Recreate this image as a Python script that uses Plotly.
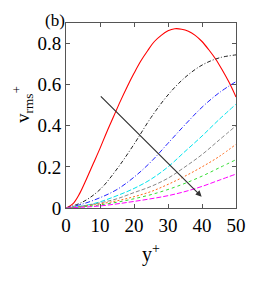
import plotly.graph_objects as go

x = [0, 2, 4, 6, 8, 10, 12, 14, 16, 18, 20, 22, 24, 26, 28, 30, 32, 34, 36, 38, 40, 42, 44, 46, 48, 50]
red = [0, 0.02, 0.07, 0.14, 0.215, 0.29, 0.37, 0.445, 0.52, 0.59, 0.655, 0.715, 0.765, 0.81, 0.84, 0.862, 0.872, 0.87, 0.86, 0.84, 0.81, 0.77, 0.725, 0.67, 0.61, 0.54]

xs = [0, 5, 10, 15, 20, 25, 30, 35, 40, 45, 50]
black = [0, 0.03, 0.09, 0.19, 0.31, 0.44, 0.55, 0.635, 0.695, 0.73, 0.745]
blue = [0, 0.02, 0.05, 0.09, 0.15, 0.225, 0.315, 0.405, 0.49, 0.56, 0.615]
cyan = [0, 0.01, 0.03, 0.06, 0.095, 0.14, 0.20, 0.275, 0.35, 0.43, 0.505]
gray = [0, 0.01, 0.025, 0.045, 0.075, 0.105, 0.145, 0.20, 0.26, 0.33, 0.40]
orange = [0, 0.008, 0.02, 0.035, 0.055, 0.08, 0.115, 0.155, 0.20, 0.25, 0.31]
green = [0, 0.006, 0.015, 0.028, 0.045, 0.065, 0.09, 0.12, 0.155, 0.195, 0.235]
magenta = [0, 0.004, 0.01, 0.02, 0.032, 0.045, 0.06, 0.08, 0.105, 0.135, 0.165]

arrow_start = (9.8, 0.55)
arrow_end = (39.9, 0.055)

xticks = [0, 10, 20, 30, 40, 50]
yticks = [0, 0.2, 0.4, 0.6, 0.8]

FONT = "Liberation Serif"

fig = go.Figure()
fig.add_trace(go.Scatter(x=x, y=red, mode="lines", line=dict(color="#ff0000", width=1.1, shape="spline")))
series = [
    (black, "#222222", "4px,2px,1px,2px"),
    (blue, "#2222ff", "5px,2px,1px,2px"),
    (cyan, "#00e5ee", "5px,2px"),
    (gray, "#888888", "4px,2px"),
    (orange, "#ff6a1a", "2px,2px"),
    (green, "#33dd33", "3px,3px"),
    (magenta, "#ff00ff", "5px,2px"),
]
for ys, c, d in series:
    fig.add_trace(go.Scatter(x=xs, y=ys, mode="lines",
                             line=dict(color=c, width=1, dash=d, shape="spline")))

fig.add_annotation(x=arrow_end[0], y=arrow_end[1], ax=arrow_start[0], ay=arrow_start[1],
                   xref="x", yref="y", axref="x", ayref="y", showarrow=True,
                   arrowhead=2, arrowsize=1, arrowwidth=1.2, arrowcolor="#333333", text="")
fig.add_annotation(text="(b)", xref="paper", yref="paper", x=0.0, y=1.0,
                   xanchor="right", yanchor="bottom", showarrow=False, yshift=-9, xshift=1,
                   font=dict(family=FONT, size=17, color="black"))
# y-axis title as rotated annotation for precise placement
fig.add_annotation(text="v<sub>rms</sub><sup>+</sup>", xref="paper", yref="paper",
                   x=-0.255, y=0.56, xanchor="center", yanchor="middle", textangle=-90,
                   showarrow=False, font=dict(family=FONT, size=19, color="black"))

axis_common = dict(showgrid=False, zeroline=False, showline=True, linecolor="#555555",
                   linewidth=1, mirror="ticks", ticks="inside", ticklen=4,
                   tickcolor="#555555", automargin=False,
                   tickfont=dict(family=FONT, size=19, color="black"))
fig.update_xaxes(range=[0, 50], tickvals=xticks, ticktext=[str(t) for t in xticks],
                 title=dict(text="y<sup>+</sup>", font=dict(family=FONT, size=20, color="black"), standoff=12),
                 **axis_common)
fig.update_yaxes(range=[0, 0.9], tickvals=yticks, ticktext=["0", "0.2", "0.4", "0.6", "0.8"],
                 **axis_common)
fig.update_layout(width=266, height=291, showlegend=False,
                  margin=dict(l=66, r=30, t=23, b=83),
                  plot_bgcolor="white", paper_bgcolor="white")
fig.write_html("out.html", config={"displayModeBar": False},
               post_script="document.body.style.margin='0';")
